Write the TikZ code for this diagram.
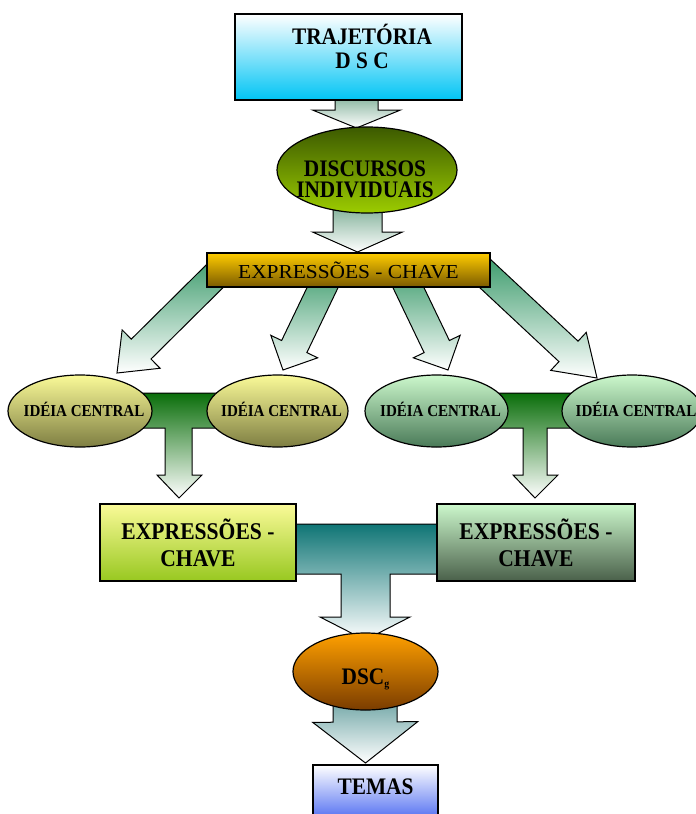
\documentclass[tikz,border=0pt]{standalone}
\usepackage{fontspec}
\setmainfont{Liberation Serif}
\newfontfamily\hdfont{Liberation Serif}[FakeStretch=0.9]
\newfontfamily\barfont{Liberation Serif}[FakeStretch=1.08]
\usetikzlibrary{shapes.geometric,calc}
\pgfdeclarelayer{bg}
\pgfsetlayers{bg,main}
\definecolor{cyanB}{HTML}{00C4F4}
\definecolor{oliveT}{HTML}{3C5A00}
\definecolor{limeB}{HTML}{9CCC00}
\definecolor{goldT}{HTML}{FFCC00}
\definecolor{goldB}{HTML}{7A5A00}
\definecolor{paleY}{HTML}{FAFA98}
\definecolor{oliveB}{HTML}{7E7E42}
\definecolor{paleG}{HTML}{CCF8CC}
\definecolor{greenB}{HTML}{4A7A58}
\definecolor{ygB}{HTML}{98C820}
\definecolor{grayG}{HTML}{4A604A}
\definecolor{orangeT}{HTML}{FFA000}
\definecolor{brownB}{HTML}{7A3C00}
\definecolor{blueB}{HTML}{4060F0}
\definecolor{arrA}{HTML}{6FA58A}
\definecolor{arrD}{HTML}{3A9A6A}
\definecolor{tGreen}{HTML}{0A6E0A}
\definecolor{tTeal}{HTML}{0F7575}
\definecolor{arrL}{HTML}{5A9898}
\newcommand{\blockarrow}[6]{%
  \coordinate (ba-s) at (#1);
  \coordinate (ba-t) at (#2);
  \coordinate (ba-h) at ($(ba-t)!#5!(ba-s)$);
  \draw[#6] ($(ba-s)!#3!90:(ba-t)$) -- ($(ba-h)!#3!-90:(ba-s)$) -- ($(ba-h)!#4!-90:(ba-s)$) -- (ba-t) -- ($(ba-h)!#4!90:(ba-s)$) -- ($(ba-h)!#3!90:(ba-s)$) -- ($(ba-s)!#3!-90:(ba-t)$) -- cycle;
}
\tikzset{
  box/.style={draw=black, line width=1.2pt, rectangle, inner sep=0pt},
  ell/.style={draw=black, line width=1.2pt, ellipse, inner sep=0pt},
  arr/.style={draw=black, line width=1pt, line join=miter},
  hdA/.style={font=\hdfont\bfseries\fontsize{23.7}{24}\selectfont, align=center},
  hdB/.style={font=\hdfont\bfseries\fontsize{23.7}{21.5}\selectfont, align=center},
  hdC/.style={font=\hdfont\bfseries\fontsize{24}{27}\selectfont, align=center},
  idea/.style={font=\hdfont\bfseries\fontsize{16.7}{18}\selectfont, xshift=4pt, yshift=2pt},
  bartext/.style={font=\barfont\fontsize{19.8}{22}\selectfont}
}
\begin{document}
\begin{tikzpicture}[x=1pt,y=1pt]
\useasboundingbox (0,0) rectangle (696,-814);
% nodes
\node[box, top color=white, bottom color=cyanB, minimum width=227pt, minimum height=86pt,
  label={[hdA, xshift=13.5pt, yshift=11pt]center:TRAJETÓRIA\\D S C}] (top) at (348.5,-57) {};
\node[ell, top color=oliveT, bottom color=limeB, minimum width=180pt, minimum height=86pt,
  label={[hdB, xshift=-2pt, yshift=-9.5pt]center:DISCURSOS\\INDIVIDUAIS}] (disc) at (367,-170) {};
\node[box, top color=goldT, bottom color=goldB, minimum width=283pt, minimum height=34pt, bartext] (bar) at (348.5,-270) {EXPRESSÕES - CHAVE};
\node[ell, top color=paleY, bottom color=oliveB, minimum width=144pt, minimum height=72pt,
  label={[idea]center:IDÉIA CENTRAL}] (e1) at (80,-411) {};
\node[ell, top color=paleY, bottom color=oliveB, minimum width=141pt, minimum height=72pt,
  label={[idea]center:IDÉIA CENTRAL}] (e2) at (277.5,-411) {};
\node[ell, top color=paleG, bottom color=greenB, minimum width=143pt, minimum height=72pt,
  label={[idea]center:IDÉIA CENTRAL}] (e3) at (436.5,-411) {};
\node[ell, top color=paleG, bottom color=greenB, minimum width=140pt, minimum height=72pt,
  label={[idea]center:IDÉIA CENTRAL}] (e4) at (632,-411) {};
\node[box, top color=paleY, bottom color=ygB, minimum width=196pt, minimum height=77pt, hdC] (k1) at (198,-542.5) {EXPRESSÕES -\\CHAVE};
\node[box, top color=paleG, bottom color=grayG, minimum width=198pt, minimum height=77pt, hdC] (k2) at (536,-542.5) {EXPRESSÕES -\\CHAVE};
\node[ell, top color=orangeT, bottom color=brownB, minimum width=145pt, minimum height=77pt,
  label={[hdA, yshift=-8pt]center:DSC{\fontsize{11}{11}\selectfont\raisebox{-3pt}{g}}}] (dsc) at (365.5,-671.5) {};
\node[box, top color=white, bottom color=blueB, minimum width=125pt, minimum height=60pt,
  label={[hdA, yshift=8.5pt]center:TEMAS}] (temas) at (375.5,-795) {};
% connectors
\begin{pgfonlayer}{bg}
\blockarrow{356.5,-90}{356.5,-128}{21.5pt}{44pt}{18pt}{arr, top color=arrA, bottom color=white}
\blockarrow{357.5,-200}{357.5,-252}{24.5pt}{45pt}{20pt}{arr, top color=arrA, bottom color=white}
\blockarrow{226,-265}{117,-373}{14pt}{27pt}{34pt}{arr, top color=arrD, bottom color=white}
\blockarrow{331,-270}{283,-370}{14pt}{26pt}{26pt}{arr, top color=arrD, bottom color=white}
\blockarrow{400,-270}{448,-370}{14pt}{26pt}{26pt}{arr, top color=arrD, bottom color=white}
\blockarrow{476,-265}{597,-378}{14pt}{26pt}{39pt}{arr, top color=arrD, bottom color=white}
\draw[arr, top color=tGreen, bottom color=white] (143,-393) -- (217,-393) -- (217,-428) -- (192,-428) -- (192,-475) -- (202,-475) -- (179,-498) -- (157,-475) -- (165,-475) -- (165,-428) -- (143,-428) -- cycle;
\draw[arr, top color=tGreen, bottom color=white] (497,-393) -- (572,-393) -- (572,-428) -- (547,-428) -- (547,-475) -- (558,-475) -- (535,-498) -- (513,-475) -- (523,-475) -- (523,-428) -- (497,-428) -- cycle;
\draw[arr, top color=tTeal, bottom color=white] (290,-524) -- (445,-524) -- (445,-574) -- (390,-574) -- (390,-617) -- (410,-617) -- (365,-640) -- (320,-617) -- (341,-617) -- (341,-574) -- (290,-574) -- cycle;
\blockarrow{365,-690}{365.5,-763}{32pt}{52.5pt}{41pt}{arr, top color=arrL, bottom color=white}
\end{pgfonlayer}
\end{tikzpicture}
\end{document}
